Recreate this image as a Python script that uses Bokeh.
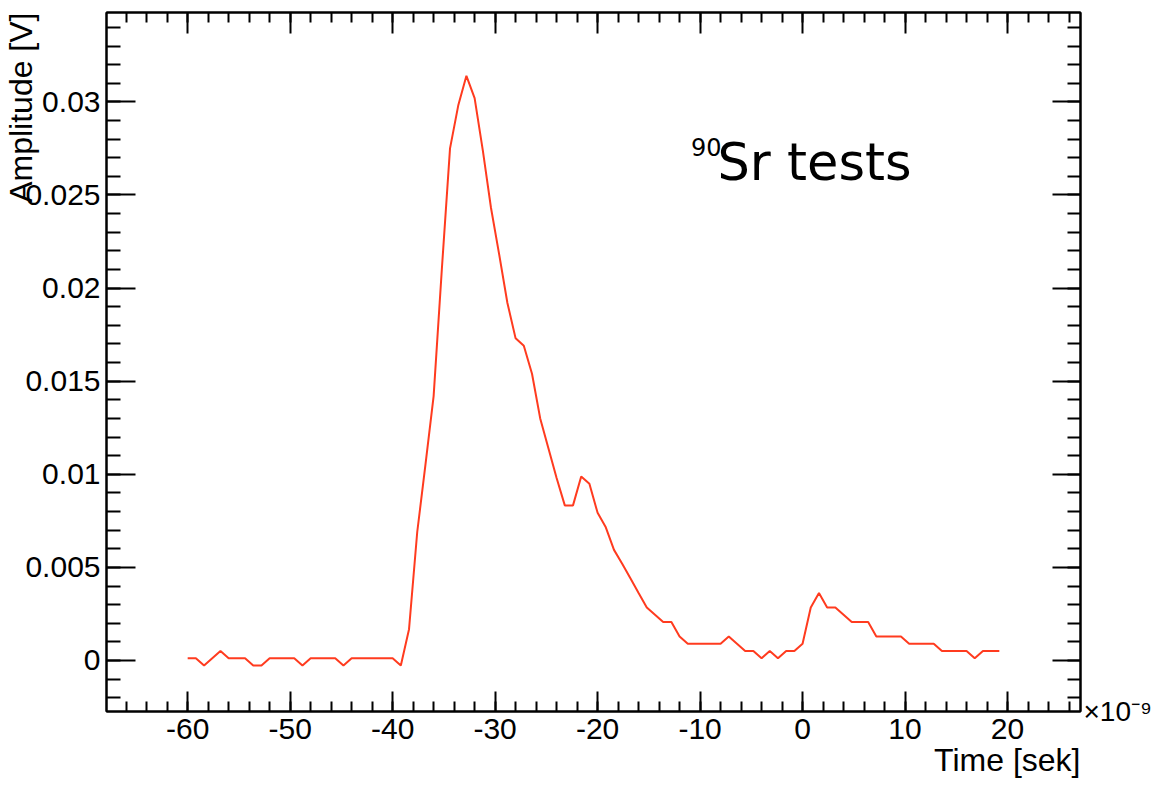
from bokeh.plotting import figure
from bokeh.models import LinearAxis, FixedTicker, Range1d, Label, Title
from bokeh.embed import file_html
from bokeh.resources import INLINE

# ---- data (time in ns, amplitude in V) ----
time_ns = [
    -60.0, -59.2, -58.4, -57.6, -56.8, -56.0, -55.2, -54.4, -53.6, -52.8,
    -52.0, -51.2, -50.4, -49.6, -48.8, -48.0, -47.2, -46.4, -45.6, -44.8,
    -44.0, -43.2, -42.4, -41.6, -40.8, -40.0, -39.2, -38.4, -37.6, -36.8,
    -36.0, -35.2, -34.4, -33.6, -32.8, -32.0, -31.2, -30.4, -29.6, -28.8,
    -28.0, -27.2, -26.4, -25.6, -24.8, -24.0, -23.2, -22.4, -21.6, -20.8,
    -20.0, -19.2, -18.4, -17.6, -16.8, -16.0, -15.2, -14.4, -13.6, -12.8,
    -12.0, -11.2, -10.4, -9.6, -8.8, -8.0, -7.2, -6.4, -5.6, -4.8,
    -4.0, -3.2, -2.4, -1.6, -0.8, 0.0, 0.8, 1.6, 2.4, 3.2,
    4.0, 4.8, 5.6, 6.4, 7.2, 8.0, 8.8, 9.6, 10.4, 11.2,
    12.0, 12.8, 13.6, 14.4, 15.2, 16.0, 16.8, 17.6, 18.4, 19.2,
]
amplitude_v = [
    0.00012, 0.00012, -0.00027, 0.00012, 0.00051, 0.00012, 0.00012, 0.00012, -0.00027, -0.00027,
    0.00012, 0.00012, 0.00012, 0.00012, -0.00027, 0.00012, 0.00012, 0.00012, 0.00012, -0.00027,
    0.00012, 0.00012, 0.00012, 0.00012, 0.00012, 0.00012, -0.00027, 0.00168, 0.0069, 0.0105,
    0.0142, 0.0210, 0.0275, 0.0298, 0.0314, 0.0302, 0.0274, 0.0243, 0.0218, 0.0192,
    0.0173, 0.0169, 0.0154, 0.0130, 0.0114, 0.0098, 0.00833, 0.00833, 0.00988, 0.00949,
    0.00793, 0.00715, 0.00594, 0.00520, 0.00442, 0.00363, 0.00285, 0.00246, 0.00207, 0.00207,
    0.00129, 0.0009, 0.0009, 0.0009, 0.0009, 0.0009, 0.00129, 0.0009, 0.00051, 0.00051,
    0.00012, 0.00051, 0.00012, 0.00051, 0.00051, 0.0009, 0.00285, 0.00363, 0.00285, 0.00285,
    0.00246, 0.00207, 0.00207, 0.00207, 0.00129, 0.00129, 0.00129, 0.00129, 0.0009, 0.0009,
    0.0009, 0.0009, 0.00051, 0.00051, 0.00051, 0.00051, 0.00012, 0.00051, 0.00051, 0.00051,
]

x_ticks = [-60, -50, -40, -30, -20, -10, 0, 10, 20]
x_tick_labels = ["-60", "-50", "-40", "-30", "-20", "-10", "0", "10", "20"]
y_ticks = [0, 0.005, 0.01, 0.015, 0.02, 0.025, 0.03]
y_tick_labels = ["0", "0.005", "0.01", "0.015", "0.02", "0.025", "0.03"]
x_minor = [-66 + 2 * k for k in range(47)]
y_minor = [round(-0.002 + 0.001 * k, 3) for k in range(37)]

x_title = "Time [sek]"
y_title = "Amplitude [V]"
x_exponent = "\u00d710\u207b\u2079"
FONT = "Liberation Sans"

p = figure(width=1154, height=786,
           x_range=Range1d(-67.92, 27.12), y_range=Range1d(-0.00274, 0.0348),
           output_backend="svg", toolbar_location=None,
           min_border_left=106, min_border_right=74, min_border_top=12, min_border_bottom=75)
p.xgrid.visible = False
p.ygrid.visible = False
p.outline_line_color = "black"
p.outline_line_width = 2
p.background_fill_color = "white"
p.border_fill_color = "white"


def style(ax, ticks, minor, labels, maj, mnr, show_labels, standoff):
    ax.ticker = FixedTicker(ticks=ticks, minor_ticks=minor)
    if show_labels:
        ax.major_label_overrides = {v: s for v, s in zip(ticks, labels)}
        ax.major_label_text_font_size = "30px"
        ax.major_label_standoff = standoff
    else:
        ax.major_label_overrides = {v: "" for v in ticks}
        ax.major_label_text_font_size = "1px"
        ax.major_label_standoff = 0
    ax.axis_line_color = "black"
    ax.axis_line_width = 2
    ax.major_tick_line_width = 2
    ax.minor_tick_line_width = 2
    ax.major_tick_in = maj
    ax.major_tick_out = 0
    ax.minor_tick_in = mnr
    ax.minor_tick_out = 0
    ax.major_label_text_font = FONT
    ax.major_label_text_color = "black"
    ax.axis_label_text_font = FONT
    ax.axis_label_text_font_style = "normal"
    ax.axis_label_text_color = "black"


style(p.xaxis[0], x_ticks, x_minor, x_tick_labels, 20, 10, True, 7)
style(p.yaxis[0], y_ticks, y_minor, y_tick_labels, 29, 14, True, 6)

top = LinearAxis()
style(top, x_ticks, x_minor, x_tick_labels, 21, 10, False, 0)
p.add_layout(top, "above")

right = LinearAxis()
style(right, y_ticks, y_minor, y_tick_labels, 28, 13, False, 0)
right.axis_label = x_exponent
right.axis_label_text_font_size = "28px"
right.axis_label_orientation = "horizontal"
right.axis_label_standoff = 3
right.axis_label_align = "start"
p.add_layout(right, "right")

# axis titles as side-panel titles, aligned to the frame ends (ROOT style)
p.add_layout(Title(text=x_title, align="right", text_font=FONT, text_font_size="32px",
                   text_font_style="normal", text_color="black", standoff=-3), "below")
p.add_layout(Title(text=y_title, align="right", text_font=FONT, text_font_size="32px",
                   text_font_style="normal", text_color="black", standoff=-33), "left")

p.line(time_ns, amplitude_v, line_color="#ff3b1f", line_width=2)

# in-frame annotation (screen units relative to frame bottom-left)
p.add_layout(Label(x=615, y=565, x_units="screen", y_units="screen", text="90",
                   text_font="DejaVu Sans", text_font_size="24px", text_align="right",
                   text_baseline="middle", text_color="black"))
p.add_layout(Label(x=611, y=549, x_units="screen", y_units="screen", text="Sr tests",
                   text_font="DejaVu Sans", text_font_size="51px", text_align="left",
                   text_baseline="middle", text_color="black"))

open("out.html", "w").write(file_html(p, INLINE))
